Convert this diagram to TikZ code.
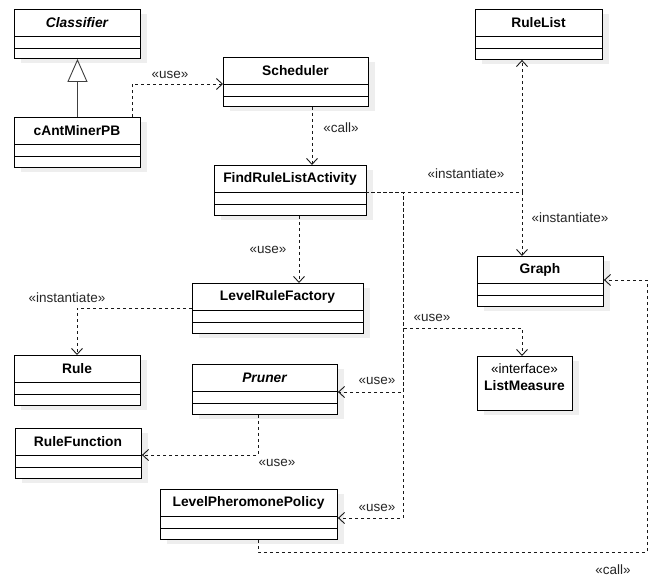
\documentclass[tikz,border=0pt]{standalone}
\usepackage{fontspec}
\setmainfont{Liberation Sans}
\usetikzlibrary{arrows.meta,calc}
\definecolor{shadowc}{HTML}{EEEEEE}
\tikzset{
  box/.style={draw=black, line width=0.9pt, fill=white, inner sep=0pt, anchor=north west},
  ttl/.style={font=\fontsize{13.8}{16}\selectfont\bfseries, inner sep=0pt},
  ittl/.style={font=\fontsize{13.8}{16}\selectfont\bfseries\itshape, inner sep=0pt},
  lbl/.style={font=\fontsize{13.5}{16}\selectfont, text=black!85, inner sep=0pt},
  dep/.style={draw=black!90, line width=0.9pt, dash pattern=on 3pt off 3pt, -{Straight Barb[length=6pt,width=11pt,line width=0.9pt]}},
  gen/.style={draw=black!75, line width=1.1pt, -{Triangle[open,length=23pt,width=20pt,line width=0.9pt]}}
}
% name, x1, y1, x2, y2, title, title style
\newcommand\umlclass[7]{%
  \fill[shadowc] (#2+7,#3+5) rectangle (#4+7,#5+5);
  \pgfmathsetlengthmacro\bw{(#4-#2)*1pt}%
  \pgfmathsetlengthmacro\bh{(#5-#3)*1pt}%
  \node[box, minimum width=\bw, minimum height=\bh] (#1) at (#2,#3) {};
  \node[#7] (#1-t) at ({(#2+#4)/2},#3+14) {#6};
  \draw[line width=0.9pt] (#2,#3+27) -- (#4,#3+27);
  \draw[line width=0.9pt] (#2,#3+39) -- (#4,#3+39);
}
\begin{document}
\begin{tikzpicture}[x=1pt,y=-1pt]
\useasboundingbox[fill=white] (0,0) rectangle (652,578);

\umlclass{cls}{14}{9}{140}{58}{Classifier}{ittl}
\umlclass{cam}{14}{117}{140}{167}{cAntMinerPB}{ttl}
\umlclass{sch}{223}{57}{368}{106}{Scheduler}{ttl}
\umlclass{frla}{214}{165}{366}{215}{FindRuleListActivity}{ttl}
\umlclass{rl}{475}{9}{602}{59}{RuleList}{ttl}
\umlclass{gr}{477}{256}{603}{306}{Graph}{ttl}
\umlclass{lrf}{192}{283}{363}{333}{LevelRuleFactory}{ttl}
\umlclass{rule}{14}{355}{140}{405}{Rule}{ttl}
\umlclass{pr}{192}{364}{337}{414}{Pruner}{ittl}
\umlclass{rf}{15}{428}{141}{478}{RuleFunction}{ttl}
\umlclass{lpp}{160}{489}{337}{539}{LevelPheromonePolicy}{ttl}

% ListMeasure (interface, no compartments)
\fill[shadowc] (484,361) rectangle (579,415);
\node[box, minimum width=95pt, minimum height=54pt] (lm) at (477,356) {};
\node[lbl, text=black] (lm-s) at (524.5,369) {«interface»};
\node[ttl] (lm-t) at (524.5,386) {ListMeasure};

% generalization
\draw[gen] (cam.north) -- (cls.south);

% coordinates
\coordinate (j0) at (366,192);
\coordinate (jv) at (403,192);
\coordinate (jr) at (522,192);
\coordinate (c1) at (132,84);
\coordinate (c2) at (77,308);
\coordinate (c3) at (403,328);
\coordinate (c4) at (522,328);
\coordinate (c5) at (258,455);
\coordinate (c6) at (258,552);
\coordinate (c7) at (647,552);
\coordinate (c8) at (647,280);
\coordinate (c9) at (403,392);
\coordinate (c10) at (403,518);
\coordinate (c11) at (312,100);
\coordinate (c12) at (299,200);

% dependencies
\draw[dep] (cam.north east -| c1) -- (c1) -- (sch.west |- c1);
\node[lbl] (l1) at (170,75) {«use»};

\draw[dep] (sch.south -| c11) -- (frla.north -| c11);
\node[lbl] (l2) at (341,128) {«call»};

\draw[dep] (j0) -- (jr) -- (rl.south -| jr);
\node[lbl] (l3) at (466,174) {«instantiate»};

\draw[dep] (j0) -- (jr) -- (gr.north -| jr);
\node[lbl] (l4) at (570,218) {«instantiate»};

\draw[dep] (frla.south -| c12) -- (lrf.north -| c12);
\node[lbl] (l5) at (268,250) {«use»};

\draw[dep] (lrf.west |- c2) -- (c2) -- (rule.north -| c2);
\node[lbl] (l6) at (67,298) {«instantiate»};

\draw[dep] (j0) -- (jv) -- (c3) -- (c4) -- (lm.north -| c4);
\node[lbl] (l7) at (432,318) {«use»};

\draw[dep, dash phase=1pt] (j0) -- (jv) -- (c9) -- (pr.east |- c9);
\node[lbl] (l8) at (377,381) {«use»};

\draw[dep] (pr.south -| c5) -- (c5) -- (rf.east |- c5);
\node[lbl] (l9) at (277,463) {«use»};

\draw[dep] (j0) -- (jv) -- (c10) -- (lpp.east |- c10);
\node[lbl] (l10) at (377,508) {«use»};

\draw[dep] (lpp.south -| c6) -- (c6) -- (c7) -- (c8) -- (gr.east |- c8);
\node[lbl] (l11) at (613,570) {«call»};
\end{tikzpicture}
\end{document}
